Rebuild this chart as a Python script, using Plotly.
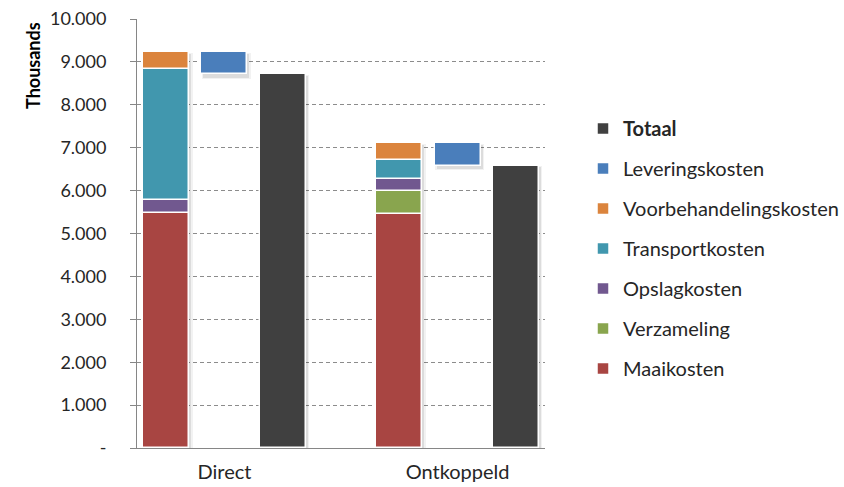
import plotly.graph_objects as go
import numpy as np

groups = ["Direct", "Ontkoppeld"]
maaikosten = [5470, 5450]
verzameling = [0, 530]
opslagkosten = [320, 300]
transportkosten = [3050, 430]
voorbehandelingskosten = [380, 390]
leveringskosten = [-510, -520]
totaal = [8710, 6580]

y_ticks = [0, 1000, 2000, 3000, 4000, 5000, 6000, 7000, 8000, 9000, 10000]
y_ticktext = ["-", "1.000", "2.000", "3.000", "4.000", "5.000", "6.000", "7.000", "8.000", "9.000", "10.000"]

# layout positions within each group: stack, delivery, total
group_pos = np.array([0, 4])
stack_x = group_pos + 0
lev_x = group_pos + 1
tot_x = group_pos + 2

colors = {
    "Maaikosten": "#A84542",
    "Verzameling": "#89A54E",
    "Opslagkosten": "#71588F",
    "Transportkosten": "#4197AE",
    "Voorbehandelingskosten": "#DB843D",
    "Leveringskosten": "#4A7EBB",
    "Totaal": "#404040",
}

stack_series = [
    ("Maaikosten", maaikosten),
    ("Verzameling", verzameling),
    ("Opslagkosten", opslagkosten),
    ("Transportkosten", transportkosten),
    ("Voorbehandelingskosten", voorbehandelingskosten),
]
ranks = {"Totaal": 1, "Leveringskosten": 2, "Voorbehandelingskosten": 3,
         "Transportkosten": 4, "Opslagkosten": 5, "Verzameling": 6, "Maaikosten": 7}

BW = 0.79
line = dict(color="white", width=1.5)

fig = go.Figure()

# soft drop shadows (drawn first, beneath the bars)
stack_top = np.sum([np.array(v, dtype=float) for _, v in stack_series], axis=0)
lev = np.array(leveringskosten, dtype=float)
tot = np.array(totaal, dtype=float)
shadow_cols = [
    (stack_x, np.zeros(2), stack_top),
    (lev_x, stack_top + lev, -lev),
    (tot_x, np.zeros(2), tot),
]
SH_DX = 0.035   # data units (~2px)
SH_DY = 80      # value units (~3px)
for xs, bottoms, heights in shadow_cols:
    for a, w in [(0.05, 0.05), (0.09, 0.0)]:
        fig.add_trace(go.Bar(
            x=xs, y=heights + SH_DY * 0.6 + w * 800, base=bottoms - SH_DY - w * 400,
            width=BW + w, offset=-BW / 2 + SH_DX - w / 2,
            marker=dict(color=f"rgba(0,0,0,{a})", line=dict(width=0)),
            showlegend=False, hoverinfo="skip"))

base = np.zeros(2)
for name, vals in stack_series:
    vals = np.array(vals, dtype=float)
    fig.add_trace(go.Bar(
        x=stack_x, y=vals, base=base.copy(), name=name, width=BW,
        marker=dict(color=colors[name], line=line),
        legendgroup=name, legendrank=ranks[name]))
    base = base + vals

fig.add_trace(go.Bar(
    x=lev_x, y=leveringskosten, base=base.copy(), name="Leveringskosten", width=BW,
    marker=dict(color=colors["Leveringskosten"], line=line),
    legendgroup="Leveringskosten", legendrank=ranks["Leveringskosten"]))

fig.add_trace(go.Bar(
    x=tot_x, y=totaal, name="<b>Totaal</b>", width=BW,
    marker=dict(color=colors["Totaal"], line=line),
    legendgroup="Totaal", legendrank=ranks["Totaal"]))

fig.update_layout(
    width=844, height=487,
    margin=dict(l=137, r=299, t=19, b=39, autoexpand=False),
    paper_bgcolor="white", plot_bgcolor="white",
    barmode="overlay",
    font=dict(family="Lato, 'Open Sans', sans-serif", color="#262626"),
    showlegend=True,
    legend=dict(x=(583 - 137) / 408, y=(448 - 109) / 429, xanchor="left", yanchor="top",
                font=dict(size=20, color="#262626"),
                tracegroupgap=11, itemwidth=30,
                bgcolor="rgba(0,0,0,0)"),
    bargap=0,
)
fig.update_xaxes(
    range=[-0.5, 6.5], tickmode="array",
    tickvals=list(group_pos + 1), ticktext=groups,
    showgrid=False, zeroline=False, automargin=False,
    showline=True, linecolor="#868686", linewidth=1,
    ticks="", ticklabelstandoff=6,
    tickfont=dict(size=20, color="#262626"),
)
fig.update_yaxes(
    range=[0, 10000], tickmode="array", tickvals=y_ticks, ticktext=y_ticktext,
    showgrid=True, gridcolor="#8C8C8C", griddash="4px,3px", gridwidth=1,
    zeroline=False, showline=True, linecolor="#868686", linewidth=1, automargin=False,
    ticks="outside", ticklen=6, tickcolor="#868686",
    ticklabelstandoff=20,
    tickfont=dict(size=18, color="#262626"),
)
fig.add_annotation(
    text="<b>Thousands</b>", textangle=-90, xref="paper", yref="paper",
    x=(33 - 137) / 408, y=(448 - 66) / 429, xanchor="center", yanchor="middle",
    showarrow=False, font=dict(size=18, color="#000000"))

fig.write_html("out.html", config={"displayModeBar": False},
               post_script="document.body.style.margin='0px';document.body.style.overflow='hidden';")
